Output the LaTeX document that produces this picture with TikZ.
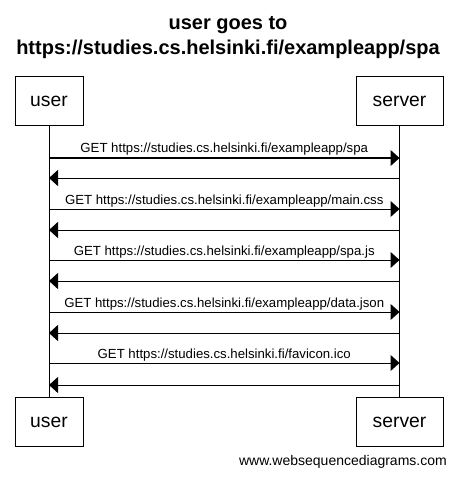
\documentclass[tikz,border=0pt]{standalone}
\usepackage{fontspec}
\setmainfont{Liberation Sans}
\usepackage{tikz}
\usetikzlibrary{arrows.meta,positioning,calc}

\begin{document}
\begin{tikzpicture}[x=1pt, y=-1pt]
  % Define styles
  \tikzstyle{actor} = [rectangle, draw, line width=1pt, minimum height=49pt, inner sep=0pt, font=\fontsize{19.3}{22}\selectfont]
  \tikzstyle{lifeline} = [line width=1pt]
  \tikzstyle{msg} = [line width=1pt, -{Triangle[length=9pt, width=16pt]}]
  \tikzstyle{label} = [font=\fontsize{13.2}{15}\selectfont, anchor=base, yshift=5pt]

  \useasboundingbox (0,0) rectangle (457,481);

  % Title
  \node [anchor=base, align=center, font=\fontsize{20}{24.5}\selectfont\bfseries] (title) at (228,54.5)
    {user goes to\\https://studies.cs.helsinki.fi/exampleapp/spa};

  % Participants, top and bottom
  \node [actor, minimum width=68pt] (user) at (49,101.5) {user};
  \node [actor, minimum width=87pt] (server) at (399.5,101.5) {server};
  \node [actor, minimum width=68pt] (userb) at (49,422) {user};
  \node [actor, minimum width=87pt] (serverb) at (399.5,422) {server};

  % Lifelines
  \draw [lifeline] (user.south) -- (userb.north);
  \draw [lifeline] (server.south) -- (serverb.north);

  % Points on the lifelines
  \coordinate (u1) at (49,158);    \coordinate (s1) at (399.5,158);
  \coordinate (u2) at (49,178);    \coordinate (s2) at (399.5,178);
  \coordinate (u3) at (49,209);    \coordinate (s3) at (399.5,209);
  \coordinate (u4) at (49,230);    \coordinate (s4) at (399.5,230);
  \coordinate (u5) at (49,260);    \coordinate (s5) at (399.5,260);
  \coordinate (u6) at (49,281);    \coordinate (s6) at (399.5,281);
  \coordinate (u7) at (49,312);    \coordinate (s7) at (399.5,312);
  \coordinate (u8) at (49,333);    \coordinate (s8) at (399.5,333);
  \coordinate (u9) at (49,363);    \coordinate (s9) at (399.5,363);
  \coordinate (u10) at (49,385);   \coordinate (s10) at (399.5,385);

  % Requests and responses
  \draw [msg] (u1) -- (s1) node[midway, label] {GET https://studies.cs.helsinki.fi/exampleapp/spa};
  \draw [msg] (s2) -- (u2);
  \draw [msg] (u3) -- (s3) node[midway, label] {GET https://studies.cs.helsinki.fi/exampleapp/main.css};
  \draw [msg] (s4) -- (u4);
  \draw [msg] (u5) -- (s5) node[midway, label] {GET https://studies.cs.helsinki.fi/exampleapp/spa.js};
  \draw [msg] (s6) -- (u6);
  \draw [msg] (u7) -- (s7) node[midway, label] {GET https://studies.cs.helsinki.fi/exampleapp/data.json};
  \draw [msg] (s8) -- (u8);
  \draw [msg] (u9) -- (s9) node[midway, label] {GET https://studies.cs.helsinki.fi/favicon.ico};
  \draw [msg] (s10) -- (u10);

  % Footer
  \node [anchor=base east, inner sep=0pt, font=\fontsize{14}{16}\selectfont] (footer) at (447,465) {www.websequencediagrams.com};

\end{tikzpicture}
\end{document}
